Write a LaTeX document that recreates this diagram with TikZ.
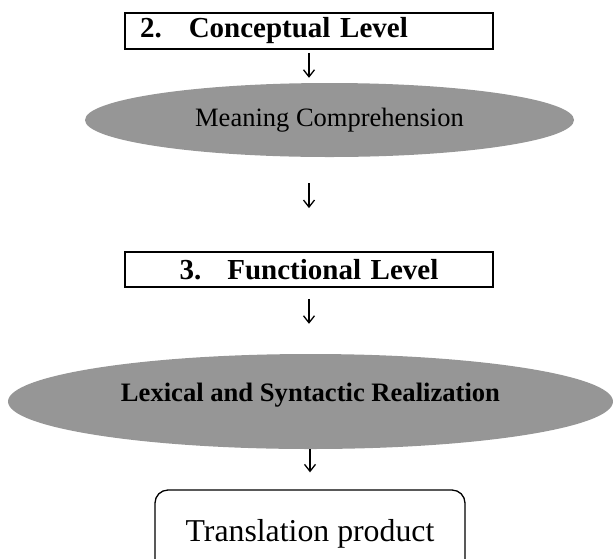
\documentclass[tikz,border=0pt]{standalone}
\usepackage{fontspec}
\setmainfont{Liberation Serif}
\usepackage{tikz}
\usetikzlibrary{arrows.meta,shapes.geometric}

\definecolor{ellgray}{RGB}{150,150,150}

\begin{document}
\begin{tikzpicture}[x=1pt, y=-1pt, >={Straight Barb[length=7pt,width=11pt]},
	lvlbox/.style={draw, line width=1.8pt, minimum width=368pt, minimum height=36pt, text width=338pt, inner xsep=15pt, inner ysep=0pt, font=\fontsize{29}{34}\selectfont\bfseries},
	stage/.style={ellipse, fill=ellgray, inner sep=0pt},
	arr/.style={->, line width=1.3pt}]
	\useasboundingbox (0,0) rectangle (613,558);
	\node[lvlbox, align=left] (concept) at (309,31) {2.\hspace{27pt}Conceptual Level};
	\node[stage, minimum width=489pt, minimum height=74pt, font=\fontsize{26.5}{31}\selectfont] (meaning) at (329.5,120) {Meaning Comprehension};
	\node[lvlbox, align=center, minimum height=35pt] (funct) at (309,269.5) {3.\hspace{26pt}Functional Level};
	\node[stage, minimum width=605pt, minimum height=95pt, text depth=18pt, font=\fontsize{26.6}{31}\selectfont\bfseries] (lexical) at (310.5,401.5) {Lexical and Syntactic Realization};
	\node[draw, line width=1.3pt, rounded corners=13pt, minimum width=310pt, minimum height=88pt, font=\fontsize{31.8}{37}\selectfont] (product) at (310,534) {Translation product};
	\draw[arr, shorten <=3pt, shorten >=5pt] (concept.south) -- (concept.south |- meaning.north);
	\draw[arr, shorten <=26pt, shorten >=43pt] (funct.north |- meaning.south) -- (funct.north);
	\draw[arr, shorten <=11pt, shorten >=30pt] (funct.south) -- (funct.south |- lexical.north);
	\draw[arr, shorten >=17pt] (product.north |- lexical.south) -- (product.north);
\end{tikzpicture}
\end{document}
